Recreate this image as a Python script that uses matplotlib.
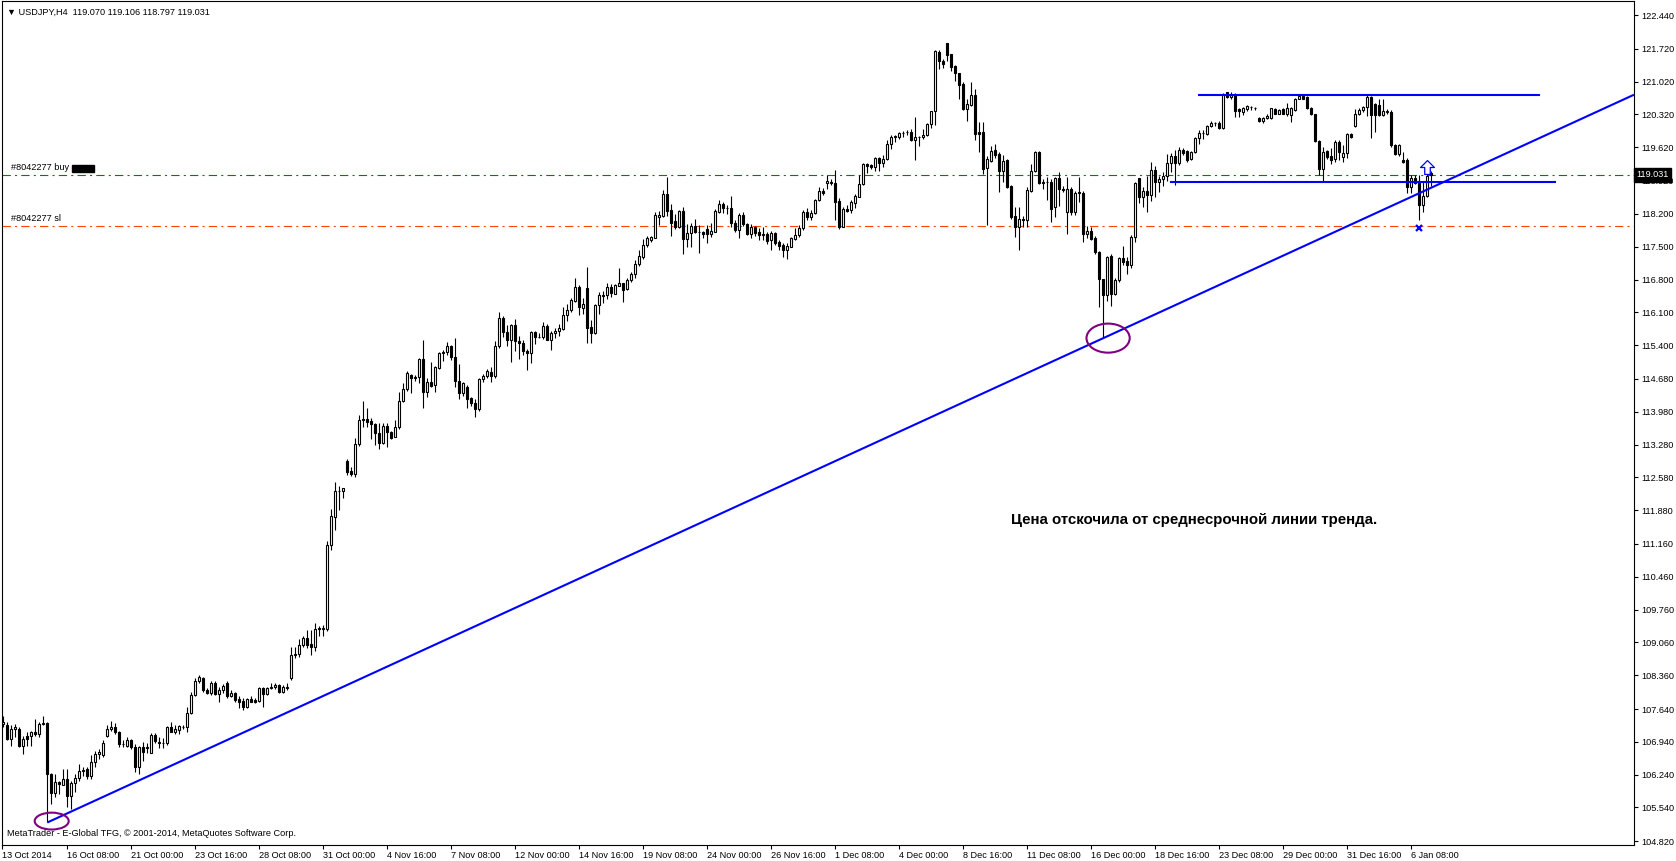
import numpy as np
import matplotlib
matplotlib.use("Agg")
import matplotlib.pyplot as plt
from matplotlib.patches import Ellipse, Rectangle
from matplotlib.path import Path
import matplotlib.transforms as mtransforms

# ============ DATA (USDJPY H4) ============
opens = [
    107.31, 107.29, 107.00, 107.22, 107.22, 106.86, 107.07, 107.07, 107.15, 107.11,
    107.32, 107.34, 106.26, 105.84, 106.08, 106.01, 106.15, 105.79, 106.06, 106.17,
    106.31, 106.36, 106.22, 106.51, 106.68, 106.67, 107.07, 107.22, 107.25, 107.15,
    106.90, 106.86, 106.98, 106.83, 106.40, 106.83, 106.82, 106.71, 107.09, 106.94,
    106.92, 106.91, 107.25, 107.15, 107.20, 107.26, 107.25, 107.55, 107.94, 108.23,
    108.30, 108.05, 107.98, 108.19, 107.96, 108.04, 108.19, 107.91, 107.98, 107.86,
    107.81, 107.69, 107.85, 107.84, 107.81, 108.08, 107.96, 108.09, 108.10, 108.15,
    108.01, 108.12, 108.30, 108.80, 108.81, 109.01, 109.15, 109.03, 108.96, 109.36,
    109.34, 109.34, 111.14, 111.74, 112.28, 112.30, 112.93, 112.72, 112.65, 113.29,
    113.81, 113.82, 113.78, 113.71, 113.52, 113.32, 113.68, 113.54, 113.45, 113.65,
    114.21, 114.46, 114.76, 114.71, 114.73, 115.11, 114.40, 114.61, 114.54, 114.91,
    115.23, 115.25, 115.38, 115.14, 114.64, 114.37, 114.50, 114.27, 114.16, 114.03,
    114.68, 114.75, 114.82, 114.74, 115.39, 115.99, 115.69, 115.50, 115.83, 115.49,
    115.44, 115.28, 115.23, 115.69, 115.57, 115.57, 115.80, 115.52, 115.66, 115.71,
    115.75, 116.04, 116.14, 116.34, 116.64, 116.20, 116.61, 115.78, 115.65, 116.25,
    116.45, 116.46, 116.65, 116.50, 116.66, 116.72, 116.60, 116.78, 116.91, 117.14,
    117.28, 117.53, 117.65, 117.69, 118.14, 118.15, 118.62, 118.28, 118.05, 117.91,
    118.26, 117.67, 117.80, 117.94, 117.82, 117.81, 117.87, 117.78, 117.82, 118.25,
    118.42, 118.32, 118.32, 118.01, 117.86, 118.18, 117.98, 117.78, 117.93, 117.82,
    117.76, 117.77, 117.64, 117.80, 117.61, 117.54, 117.42, 117.50, 117.66, 117.76,
    117.89, 118.25, 118.13, 118.21, 118.50, 118.69, 118.85, 118.89, 118.85, 118.47,
    117.93, 118.30, 118.28, 118.44, 118.57, 118.84, 119.26, 119.24, 119.20, 119.39,
    119.28, 119.36, 119.68, 119.83, 119.83, 119.93, 119.95, 119.95, 119.77, 119.84,
    119.84, 119.88, 120.11, 120.39, 121.65, 121.46, 121.84, 121.60, 121.35, 121.20,
    120.96, 120.44, 120.53, 120.74, 119.95, 119.95, 119.18, 119.33, 119.56, 119.48,
    119.12, 119.35, 118.80, 118.15, 117.93, 118.10, 118.08, 118.69, 119.12, 119.51,
    118.85, 118.89, 118.89, 118.34, 118.96, 118.73, 118.23, 118.74, 118.25, 118.66,
    118.65, 117.78, 117.83, 117.68, 117.38, 116.81, 116.48, 117.31, 116.49, 116.78,
    117.26, 117.19, 117.12, 117.70, 118.96, 118.57, 118.69, 118.60, 119.14, 118.89,
    118.94, 119.01, 119.28, 119.43, 119.28, 119.56, 119.54, 119.36, 119.51, 119.81,
    119.92, 119.90, 120.07, 120.13, 120.13, 120.04, 120.79, 120.70, 120.73, 120.43,
    120.38, 120.43, 120.47, 120.45, 120.25, 120.19, 120.24, 120.24, 120.44, 120.34,
    120.44, 120.34, 120.31, 120.41, 120.66, 120.71, 120.70, 120.46, 120.33, 119.75,
    119.16, 119.54, 119.44, 119.36, 119.73, 119.42, 119.49, 119.90, 120.08, 120.34,
    120.41, 120.49, 120.70, 120.54, 120.52, 120.31, 120.37, 120.38, 119.67, 119.48,
    119.35, 119.35, 118.78, 118.97, 118.87, 118.38, 118.58, 119.070,
]
highs = [
    107.50, 107.36, 107.29, 107.32, 107.25, 107.07, 107.15, 107.18, 107.43, 107.36,
    107.50, 107.36, 106.27, 106.26, 106.11, 106.36, 106.36, 106.11, 106.26, 106.47,
    106.40, 106.40, 106.65, 106.75, 106.79, 106.97, 107.29, 107.39, 107.34, 107.18,
    106.97, 107.04, 107.00, 106.90, 106.86, 106.93, 106.91, 107.12, 107.12, 107.05,
    107.02, 107.27, 107.37, 107.30, 107.30, 107.30, 107.69, 108.01, 108.30, 108.37,
    108.32, 108.08, 108.23, 108.23, 108.12, 108.17, 108.23, 108.05, 108.01, 107.91,
    107.87, 107.87, 107.91, 107.87, 108.12, 108.12, 108.12, 108.19, 108.20, 108.17,
    108.15, 108.19, 108.97, 108.97, 109.13, 109.19, 109.33, 109.33, 109.47, 109.41,
    109.43, 111.23, 111.90, 112.48, 112.39, 112.35, 112.97, 112.81, 113.41, 113.91,
    114.21, 114.05, 113.84, 113.73, 113.73, 113.73, 113.73, 113.57, 113.81, 114.41,
    114.59, 114.85, 114.79, 114.76, 115.13, 115.52, 114.69, 115.04, 114.96, 115.25,
    115.30, 115.46, 115.40, 115.55, 115.00, 114.61, 114.54, 114.30, 114.25, 114.70,
    114.79, 114.89, 114.93, 115.48, 116.10, 116.03, 115.82, 115.85, 115.96, 115.60,
    115.50, 115.32, 115.71, 115.71, 115.67, 115.89, 115.85, 115.71, 115.76, 115.85,
    116.22, 116.28, 116.41, 116.83, 116.68, 116.40, 117.07, 115.93, 116.27, 116.54,
    116.56, 116.73, 116.70, 116.70, 117.04, 116.73, 116.84, 116.95, 117.21, 117.42,
    117.66, 117.73, 117.73, 118.23, 118.26, 118.71, 118.99, 118.40, 118.19, 118.28,
    118.35, 117.99, 118.01, 118.10, 117.96, 117.83, 117.96, 118.00, 118.30, 118.50,
    118.46, 118.39, 118.58, 118.07, 118.22, 118.25, 118.01, 117.98, 117.95, 117.89,
    117.91, 117.82, 117.84, 117.82, 117.64, 117.57, 117.57, 117.71, 117.89, 117.96,
    118.28, 118.32, 118.28, 118.51, 118.77, 118.76, 119.03, 118.94, 119.13, 118.53,
    118.35, 118.39, 118.49, 118.63, 119.02, 119.28, 119.28, 119.27, 119.41, 119.41,
    119.46, 119.77, 119.89, 119.89, 119.95, 119.97, 119.98, 120.00, 120.27, 119.86,
    120.02, 120.14, 120.40, 121.70, 121.69, 121.51, 121.84, 121.62, 121.37, 121.21,
    121.01, 120.66, 121.01, 120.87, 120.15, 120.15, 119.43, 119.65, 119.70, 119.51,
    119.46, 119.37, 118.81, 118.34, 118.34, 118.16, 118.77, 119.26, 119.55, 119.55,
    118.94, 118.98, 118.94, 118.98, 119.09, 118.80, 118.98, 118.77, 118.69, 118.98,
    118.69, 117.95, 117.91, 117.72, 117.41, 116.81, 117.31, 117.34, 116.83, 117.29,
    117.51, 117.27, 117.75, 118.88, 118.97, 118.78, 119.00, 119.30, 119.23, 119.00,
    119.10, 119.48, 119.49, 119.56, 119.63, 119.60, 119.56, 119.54, 119.85, 119.99,
    119.99, 120.10, 120.18, 120.17, 120.18, 120.78, 120.79, 120.80, 120.77, 120.45,
    120.49, 120.52, 120.50, 120.48, 120.27, 120.27, 120.34, 120.46, 120.45, 120.43,
    120.45, 120.56, 120.49, 120.68, 120.73, 120.73, 120.71, 120.49, 120.34, 119.78,
    119.63, 119.56, 119.60, 119.78, 119.78, 119.66, 119.92, 119.93, 120.44, 120.45,
    120.51, 120.73, 120.71, 120.56, 120.64, 120.65, 120.43, 120.41, 119.69, 119.68,
    119.53, 119.40, 119.03, 119.03, 119.03, 118.89, 119.17, 119.106,
]
lows = [
    107.25, 106.97, 106.86, 107.04, 106.83, 106.68, 106.86, 106.86, 107.07, 107.04,
    107.29, 105.22, 105.62, 105.76, 105.83, 106.01, 105.55, 105.51, 105.87, 106.11,
    106.22, 106.15, 106.15, 106.40, 106.58, 106.61, 107.04, 107.18, 107.11, 106.83,
    106.83, 106.83, 106.79, 106.29, 106.26, 106.54, 106.70, 106.70, 106.91, 106.80,
    106.80, 106.87, 107.14, 107.11, 107.10, 107.21, 107.15, 107.54, 107.92, 108.19,
    108.01, 107.96, 107.94, 107.94, 107.80, 107.99, 107.87, 107.89, 107.80, 107.66,
    107.62, 107.67, 107.78, 107.76, 107.78, 107.69, 107.94, 108.06, 108.06, 107.98,
    107.99, 108.05, 108.25, 108.72, 108.76, 108.97, 108.94, 108.80, 108.87, 109.19,
    109.19, 109.31, 111.03, 111.45, 111.89, 112.13, 112.63, 112.60, 112.58, 113.24,
    113.66, 113.65, 113.39, 113.27, 113.18, 113.29, 113.22, 113.40, 113.44, 113.61,
    114.18, 114.43, 114.39, 114.64, 114.59, 114.07, 114.30, 114.50, 114.41, 114.89,
    115.07, 115.18, 115.08, 114.50, 114.25, 114.32, 114.05, 114.11, 113.86, 114.00,
    114.62, 114.69, 114.62, 114.70, 115.33, 115.57, 115.39, 115.04, 115.28, 115.11,
    115.18, 114.88, 115.01, 115.43, 115.55, 115.53, 115.50, 115.30, 115.55, 115.60,
    115.73, 115.92, 116.11, 116.33, 116.04, 116.07, 115.45, 115.45, 115.63, 116.06,
    116.29, 116.38, 116.43, 116.50, 116.66, 116.33, 116.57, 116.75, 116.84, 117.09,
    117.24, 117.50, 117.61, 117.68, 117.96, 118.13, 118.15, 117.73, 117.87, 117.89,
    117.35, 117.50, 117.49, 117.80, 117.37, 117.69, 117.57, 117.70, 117.81, 118.21,
    118.21, 118.20, 117.93, 117.82, 117.69, 117.94, 117.75, 117.68, 117.73, 117.64,
    117.64, 117.55, 117.44, 117.54, 117.42, 117.27, 117.23, 117.49, 117.64, 117.71,
    117.86, 118.08, 118.08, 118.19, 118.48, 118.60, 118.74, 118.82, 118.07, 117.87,
    117.91, 118.25, 118.21, 118.33, 118.56, 118.82, 119.08, 119.16, 119.11, 119.11,
    119.20, 119.34, 119.58, 119.73, 119.79, 119.84, 119.88, 119.75, 119.34, 119.65,
    119.79, 119.86, 120.04, 120.10, 121.30, 121.31, 121.45, 121.24, 121.03, 120.66,
    120.42, 120.19, 120.50, 119.77, 119.52, 119.04, 117.96, 119.31, 119.40, 118.67,
    118.87, 118.75, 118.09, 117.71, 117.44, 117.93, 117.91, 118.67, 119.10, 118.84,
    118.74, 118.50, 118.03, 118.14, 118.37, 118.66, 117.77, 118.18, 118.18, 118.45,
    117.59, 117.68, 117.64, 117.34, 116.21, 115.55, 116.35, 116.24, 116.46, 116.75,
    117.10, 116.92, 117.05, 117.60, 118.44, 118.35, 118.25, 118.47, 118.57, 118.66,
    118.80, 118.90, 119.09, 118.82, 119.24, 119.46, 119.30, 119.35, 119.49, 119.69,
    119.80, 119.88, 120.06, 120.07, 120.02, 120.02, 120.68, 120.66, 120.27, 120.27,
    120.31, 120.39, 120.41, 120.42, 120.15, 120.14, 120.22, 120.22, 120.32, 120.32,
    120.32, 120.29, 120.15, 120.40, 120.65, 120.65, 120.44, 120.31, 119.74, 119.03,
    118.87, 119.38, 119.26, 119.30, 119.35, 119.30, 119.40, 119.82, 120.06, 120.31,
    120.38, 120.29, 119.81, 119.95, 120.29, 120.29, 120.34, 119.63, 119.46, 119.44,
    119.28, 118.64, 118.64, 118.83, 118.07, 118.25, 118.57, 118.797,
]
closes = [
    107.36, 107.00, 107.22, 107.25, 106.86, 107.00, 107.00, 107.15, 107.11, 107.32,
    107.34, 106.26, 105.84, 106.08, 106.04, 106.15, 105.79, 106.06, 106.17, 106.31,
    106.33, 106.22, 106.51, 106.68, 106.72, 106.91, 107.22, 107.25, 107.15, 106.90,
    106.90, 106.98, 106.83, 106.40, 106.83, 106.72, 106.80, 107.09, 106.95, 106.92,
    106.91, 107.25, 107.16, 107.22, 107.27, 107.25, 107.55, 107.94, 108.23, 108.32,
    108.05, 107.98, 108.19, 107.96, 108.05, 108.14, 107.91, 107.98, 107.84, 107.80,
    107.69, 107.86, 107.80, 107.80, 108.08, 107.96, 108.08, 108.10, 108.15, 108.01,
    108.12, 108.08, 108.80, 108.81, 109.01, 109.15, 109.01, 108.96, 109.34, 109.34,
    109.36, 111.14, 111.76, 112.28, 112.30, 112.35, 112.70, 112.65, 113.29, 113.81,
    113.82, 113.77, 113.71, 113.52, 113.32, 113.68, 113.54, 113.43, 113.65, 114.21,
    114.46, 114.80, 114.71, 114.73, 115.11, 114.40, 114.61, 114.52, 114.93, 115.23,
    115.26, 115.38, 115.14, 114.64, 114.37, 114.59, 114.25, 114.16, 114.03, 114.68,
    114.74, 114.84, 114.75, 115.39, 115.99, 115.69, 115.50, 115.83, 115.48, 115.44,
    115.27, 115.23, 115.69, 115.57, 115.58, 115.80, 115.52, 115.67, 115.71, 115.77,
    116.05, 116.15, 116.36, 116.64, 116.22, 116.27, 115.77, 115.65, 116.25, 116.48,
    116.48, 116.65, 116.51, 116.68, 116.72, 116.58, 116.78, 116.91, 117.14, 117.30,
    117.53, 117.68, 117.71, 118.17, 118.17, 118.62, 118.26, 118.01, 117.91, 118.26,
    117.67, 117.80, 117.94, 117.82, 117.82, 117.78, 117.77, 117.83, 118.26, 118.42,
    118.32, 118.32, 118.01, 117.86, 118.18, 117.98, 117.78, 117.93, 117.80, 117.76,
    117.77, 117.63, 117.80, 117.57, 117.51, 117.42, 117.52, 117.68, 117.76, 117.89,
    118.25, 118.13, 118.21, 118.50, 118.69, 118.65, 118.91, 118.85, 118.46, 117.91,
    118.30, 118.27, 118.45, 118.58, 118.83, 119.26, 119.22, 119.20, 119.39, 119.28,
    119.36, 119.68, 119.84, 119.86, 119.92, 119.93, 119.95, 119.77, 119.85, 119.84,
    119.88, 120.11, 120.39, 121.67, 121.45, 121.40, 121.59, 121.33, 121.21, 120.95,
    120.44, 120.54, 120.74, 119.91, 119.91, 119.16, 119.36, 119.55, 119.46, 119.12,
    119.33, 118.78, 118.13, 117.93, 118.10, 118.08, 118.71, 119.12, 119.51, 118.85,
    118.89, 118.89, 118.30, 118.96, 118.72, 118.71, 118.74, 118.25, 118.65, 118.64,
    117.78, 117.83, 117.66, 117.38, 116.81, 116.48, 117.29, 116.49, 116.78, 117.26,
    117.18, 117.12, 117.70, 118.85, 118.57, 118.69, 118.60, 119.14, 118.89, 118.94,
    119.01, 119.28, 119.43, 119.28, 119.56, 119.50, 119.35, 119.51, 119.81, 119.92,
    119.92, 120.07, 120.13, 120.13, 120.04, 120.76, 120.70, 120.73, 120.40, 120.39,
    120.45, 120.49, 120.47, 120.45, 120.19, 120.24, 120.29, 120.45, 120.34, 120.41,
    120.34, 120.45, 120.46, 120.65, 120.71, 120.66, 120.45, 120.33, 119.75, 119.16,
    119.53, 119.42, 119.35, 119.73, 119.53, 119.49, 119.90, 119.85, 120.34, 120.41,
    120.49, 120.70, 120.31, 120.31, 120.31, 120.39, 120.39, 119.67, 119.48, 119.67,
    119.30, 118.78, 118.97, 118.85, 118.38, 118.59, 119.01, 119.031,
]

# time axis labels (one every 16 bars)
time_labels = ["16 Oct 08:00", "21 Oct 00:00", "23 Oct 16:00", "28 Oct 08:00",
               "31 Oct 00:00", "4 Nov 16:00", "7 Nov 08:00", "12 Nov 00:00",
               "14 Nov 16:00", "19 Nov 08:00", "24 Nov 00:00", "26 Nov 16:00",
               "1 Dec 08:00", "4 Dec 00:00", "8 Dec 16:00", "11 Dec 08:00",
               "16 Dec 00:00", "18 Dec 16:00", "23 Dec 08:00", "29 Dec 00:00",
               "31 Dec 16:00", "6 Jan 08:00"]
first_label = "13 Oct 2014"
label_step = 16

price_ticks = [122.440, 121.720, 121.020, 120.320, 119.620, 118.920, 118.200,
               117.500, 116.800, 116.100, 115.400, 114.680, 113.980, 113.280,
               112.580, 111.880, 111.160, 110.460, 109.760, 109.060, 108.360,
               107.640, 106.940, 106.240, 105.540, 104.820]

# objects drawn on the chart
buy_price = 119.031
sl_price = 117.95
trend_x = [11, 275]
trend_y = [105.22, 115.55]
resist_x = [299, 384]
resist_y = 120.73
support_x = [292, 388]
support_y = 118.89
circles = [(12.1, 105.25, 8.5, 0.36), (276.2, 115.55, 10.8, 0.62)]
arrow_bar, arrow_price = 356, 119.19
cross_bar, cross_price = 353.8, 117.89
note = "Цена отскочила от среднесрочной линии тренда."

# ============ FIGURE ============
W, H = 1676, 861
fig = plt.figure(figsize=(W / 100, H / 100), dpi=100)
ax = fig.add_axes([2 / W, 1 - 845 / H, 1632 / W, 844 / H])
plt.rcParams['lines.scale_dashes'] = False

font = 'Liberation Sans'
fs = 6.6

o, hi, lo, c = map(np.array, (opens, highs, lows, closes))
x = np.arange(len(o))
up = c >= o

ax.vlines(x, lo, hi, color='black', lw=0.8, zorder=3)
body_lo = np.minimum(o, c)
body_h = np.abs(c - o)
ax.bar(x[up], body_h[up], bottom=body_lo[up], width=0.5, color='white',
       edgecolor='black', lw=0.8, zorder=4)
ax.bar(x[~up], body_h[~up], bottom=body_lo[~up], width=0.5, color='black',
       edgecolor='black', lw=0.8, zorder=4)

xmin, xmax = -0.325, 407.675
ax.set_xlim(xmin, xmax)
ax.set_ylim(104.74, 122.74)

# order lines
ax.axhline(buy_price, color='#008000', lw=0.8, dashes=(6, 3, 1.5, 3), zorder=2)
ax.axhline(sl_price, color='#FF4500', lw=0.8, dashes=(6, 3, 1.5, 3), zorder=2)

# trend line (ray to the right)
slope = (trend_y[1] - trend_y[0]) / (trend_x[1] - trend_x[0])
ax.plot([trend_x[0], xmax], [trend_y[0], trend_y[0] + slope * (xmax - trend_x[0])],
        color='#0000FF', lw=1.5, zorder=5, solid_capstyle='butt')
ax.plot(resist_x, [resist_y, resist_y], color='#0000FF', lw=1.5, zorder=5)
ax.plot(support_x, [support_y, support_y], color='#0000FF', lw=1.5, zorder=5)

for cx, cy, w, h in circles:
    ax.add_patch(Ellipse((cx, cy), w, h, fill=False, edgecolor='#800080', lw=1.5, zorder=6))

# buy arrow and stop marker
arrow = Path([(-0.5, 0.0), (0.0, 0.5), (0.5, 0.0), (0.2, 0.0), (0.2, -0.5),
              (-0.2, -0.5), (-0.2, 0.0), (-0.5, 0.0)], closed=True)
ax.plot([arrow_bar], [arrow_price], marker=arrow, ms=10, mfc='white', mec='#0000FF',
        mew=0.9, zorder=7)
ax.plot([cross_bar], [cross_price], marker='x', ms=5, mec='#0000FF', mew=1.6, zorder=7)

# texts
ax.text(0.003, 0.992, "\u25BC USDJPY,H4  119.070 119.106 118.797 119.031",
        transform=ax.transAxes, ha='left', va='top', fontsize=fs,
        family=[font, 'DejaVu Sans'])
ax.text(2, buy_price + 0.06, "#8042277 buy", ha='left', va='bottom', fontsize=fs,
        family=font, zorder=8)
ax.add_patch(Rectangle((17.2, buy_price + 0.06), 5.5, 0.16, color='black', zorder=8))
ax.text(2, sl_price + 0.06, "#8042277 sl", ha='left', va='bottom', fontsize=fs,
        family=font, zorder=8)
ax.text(0.003, 0.008, "MetaTrader - E-Global TFG, \u00A9 2001-2014, MetaQuotes Software Corp.",
        transform=ax.transAxes, ha='left', va='bottom', fontsize=fs, family=font)
ax.text(252, 111.68, note, ha='left', va='center', fontsize=10.8, fontweight='bold',
        family=font, zorder=8)

# current price box on the axis
trans = mtransforms.blended_transform_factory(ax.transAxes, ax.transData)
ax.text(1.0015, c[-1], f"{c[-1]:.3f}", transform=trans, ha='left', va='center',
        fontsize=fs, family=font, color='white', zorder=10, clip_on=False,
        bbox=dict(boxstyle='square,pad=0.25', fc='black', ec='black'))

# axes styling
ax.yaxis.tick_right()
ax.set_yticks(price_ticks)
ax.set_yticklabels([f"{p:.3f}" for p in price_ticks], fontsize=fs, family=font)
ax.tick_params(axis='y', direction='out', length=3, width=0.8, pad=2)

xt = [xmin] + [label_step * (k + 1) for k in range(len(time_labels))]
ax.set_xticks(xt)
ax.set_xticklabels([first_label] + time_labels, fontsize=fs, family=font)
for lab in ax.get_xticklabels():
    lab.set_ha('left')
ax.tick_params(axis='x', direction='out', length=3, width=0.8, pad=1)

for s in ax.spines.values():
    s.set_color('black')
    s.set_linewidth(0.8)

fig.savefig('out.png', dpi=100, facecolor='white')
